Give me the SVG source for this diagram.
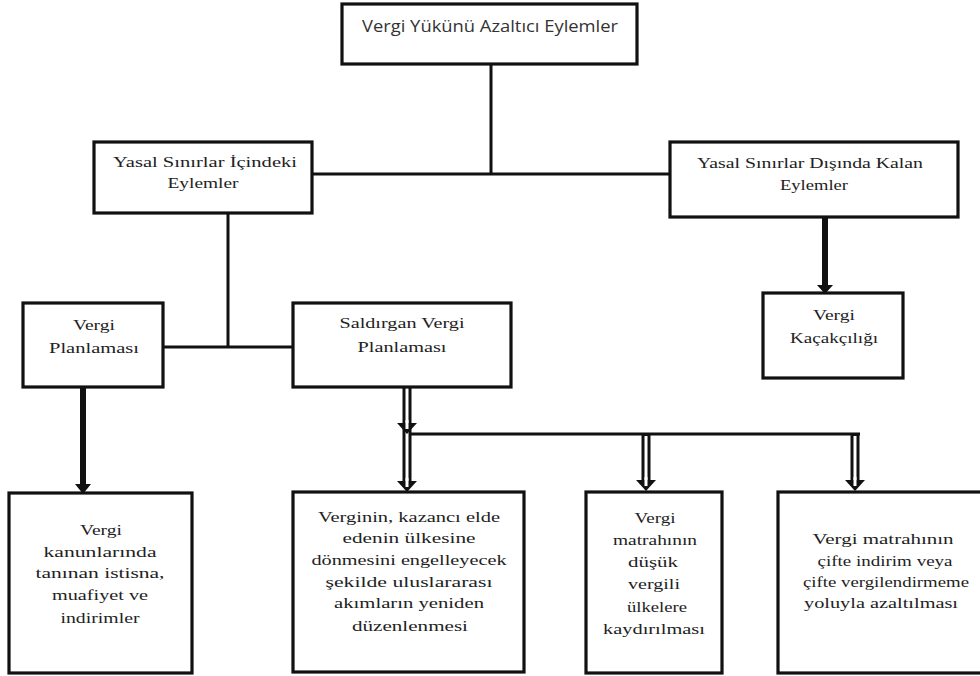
<svg xmlns="http://www.w3.org/2000/svg" width="980" height="676" viewBox="0 0 980 676">
<style>
.box{fill:#fff;stroke:#111;stroke-width:3.2}
.ln{stroke:#111;stroke-width:3;fill:none}
.thick{stroke:#111;stroke-width:6;fill:none}
.t{font-family:"Liberation Serif","DejaVu Serif",serif;font-size:15px;fill:#222;text-anchor:middle}
.ts{font-family:"Open Sans","Liberation Sans",sans-serif;font-size:16px;fill:#333;text-anchor:middle}
.dbl{stroke:#111;stroke-width:9;fill:none}
.dblin{stroke:#fff;stroke-width:3;fill:none}
.head{fill:#111}
</style>
<rect width="980" height="676" fill="#fff"/>
<g id="connectors">
<line class="ln" x1="491" y1="64" x2="491" y2="174"/>
<line class="ln" x1="312" y1="174" x2="670" y2="174"/>
<line class="ln" x1="228" y1="213" x2="228" y2="347"/>
<line class="ln" x1="163" y1="347" x2="293" y2="347"/>
<line class="thick" x1="825" y1="217" x2="825" y2="286"/>
<polygon class="head" points="817,285 833,285 825,294"/>
<line class="thick" x1="83" y1="387" x2="83" y2="485"/>
<polygon class="head" points="75,484 91,484 83,494"/>
<line class="ln" x1="407" y1="434" x2="860" y2="434"/>
<line class="dbl" x1="407" y1="387" x2="407" y2="484"/>
<line class="dblin" x1="407" y1="387" x2="407" y2="488"/>
<polygon class="head" points="397,423 417,423 407,434 "/>
<line class="dblin" x1="407" y1="420" x2="407" y2="429"/>
<polygon class="head" points="397,481 417,481 407,492"/>
<line class="dblin" x1="407" y1="478" x2="407" y2="487"/>
<line class="dbl" x1="646" y1="433" x2="646" y2="484"/>
<line class="dblin" x1="646" y1="436" x2="646" y2="488"/>
<polygon class="head" points="636,480 656,480 646,491"/>
<line class="dblin" x1="646" y1="477" x2="646" y2="486"/>
<line class="dbl" x1="855" y1="433" x2="855" y2="484"/>
<line class="dblin" x1="855" y1="436" x2="855" y2="488"/>
<polygon class="head" points="845,480 865,480 855,491"/>
<line class="dblin" x1="855" y1="477" x2="855" y2="486"/>
</g>
<g id="n-top">
<rect class="box" x="342" y="4" width="295" height="60"/>
<text class="ts" x="490" y="32" textLength="256" lengthAdjust="spacingAndGlyphs">Vergi Yükünü Azaltıcı Eylemler</text>
</g>
<g id="n-yasal-ici">
<rect class="box" x="94" y="142" width="218" height="71"/>
<text class="t" x="205" y="167" textLength="184" lengthAdjust="spacingAndGlyphs">Yasal Sınırlar İçindeki</text>
<text class="t" x="203" y="188" textLength="71" lengthAdjust="spacingAndGlyphs">Eylemler</text>
</g>
<g id="n-yasal-disi">
<rect class="box" x="670" y="142" width="288" height="75"/>
<text class="t" x="810" y="168" textLength="226" lengthAdjust="spacingAndGlyphs">Yasal Sınırlar Dışında Kalan</text>
<text class="t" x="814" y="190" textLength="68" lengthAdjust="spacingAndGlyphs">Eylemler</text>
</g>
<g id="n-kacakcilik">
<rect class="box" x="763" y="293" width="140" height="85"/>
<text class="t" x="834" y="320" textLength="42" lengthAdjust="spacingAndGlyphs">Vergi</text>
<text class="t" x="834" y="343" textLength="88" lengthAdjust="spacingAndGlyphs">Kaçakçılığı</text>
</g>
<g id="n-planlama">
<rect class="box" x="23" y="303" width="140" height="84"/>
<text class="t" x="94" y="330" textLength="42" lengthAdjust="spacingAndGlyphs">Vergi</text>
<text class="t" x="94" y="353" textLength="90" lengthAdjust="spacingAndGlyphs">Planlaması</text>
</g>
<g id="n-saldirgan">
<rect class="box" x="293" y="303" width="218" height="84"/>
<text class="t" x="402" y="328" textLength="125" lengthAdjust="spacingAndGlyphs">Saldırgan Vergi</text>
<text class="t" x="402" y="352" textLength="89" lengthAdjust="spacingAndGlyphs">Planlaması</text>
</g>
<g id="n-istisna">
<rect class="box" x="9" y="493" width="183" height="180"/>
<text class="t" x="101" y="535" textLength="42" lengthAdjust="spacingAndGlyphs">Vergi</text>
<text class="t" x="100" y="557" textLength="113" lengthAdjust="spacingAndGlyphs">kanunlarında</text>
<text class="t" x="100" y="578" textLength="129" lengthAdjust="spacingAndGlyphs">tanınan istisna,</text>
<text class="t" x="100" y="600" textLength="96" lengthAdjust="spacingAndGlyphs">muafiyet ve</text>
<text class="t" x="100" y="623" textLength="79" lengthAdjust="spacingAndGlyphs">indirimler</text>
</g>
<g id="n-akimlar">
<rect class="box" x="293" y="492" width="231" height="180"/>
<text class="t" x="409" y="522" textLength="182" lengthAdjust="spacingAndGlyphs">Verginin, kazancı elde</text>
<text class="t" x="409" y="543" textLength="133" lengthAdjust="spacingAndGlyphs">edenin ülkesine</text>
<text class="t" x="409" y="565" textLength="195" lengthAdjust="spacingAndGlyphs">dönmesini engelleyecek</text>
<text class="t" x="409" y="587" textLength="167" lengthAdjust="spacingAndGlyphs">şekilde uluslararası</text>
<text class="t" x="409" y="608" textLength="150" lengthAdjust="spacingAndGlyphs">akımların yeniden</text>
<text class="t" x="410" y="631" textLength="116" lengthAdjust="spacingAndGlyphs">düzenlenmesi</text>
</g>
<g id="n-matrah-kaydirma">
<rect class="box" x="586" y="492" width="136" height="181"/>
<text class="t" x="655" y="523" textLength="41" lengthAdjust="spacingAndGlyphs">Vergi</text>
<text class="t" x="655" y="545" textLength="84" lengthAdjust="spacingAndGlyphs">matrahının</text>
<text class="t" x="653" y="567" textLength="50" lengthAdjust="spacingAndGlyphs">düşük</text>
<text class="t" x="654" y="589" textLength="52" lengthAdjust="spacingAndGlyphs">vergili</text>
<text class="t" x="657" y="612" textLength="60" lengthAdjust="spacingAndGlyphs">ülkelere</text>
<text class="t" x="654" y="634" textLength="102" lengthAdjust="spacingAndGlyphs">kaydırılması</text>
</g>
<g id="n-cifte-indirim">
<rect class="box" x="778" y="492" width="215" height="181"/>
<text class="t" x="883" y="544" textLength="141" lengthAdjust="spacingAndGlyphs">Vergi matrahının</text>
<text class="t" x="885" y="566" textLength="135" lengthAdjust="spacingAndGlyphs">çifte indirim veya</text>
<text class="t" x="886" y="587" textLength="166" lengthAdjust="spacingAndGlyphs">çifte vergilendirmeme</text>
<text class="t" x="881" y="608" textLength="154" lengthAdjust="spacingAndGlyphs">yoluyla azaltılması</text>
</g>
</svg>
